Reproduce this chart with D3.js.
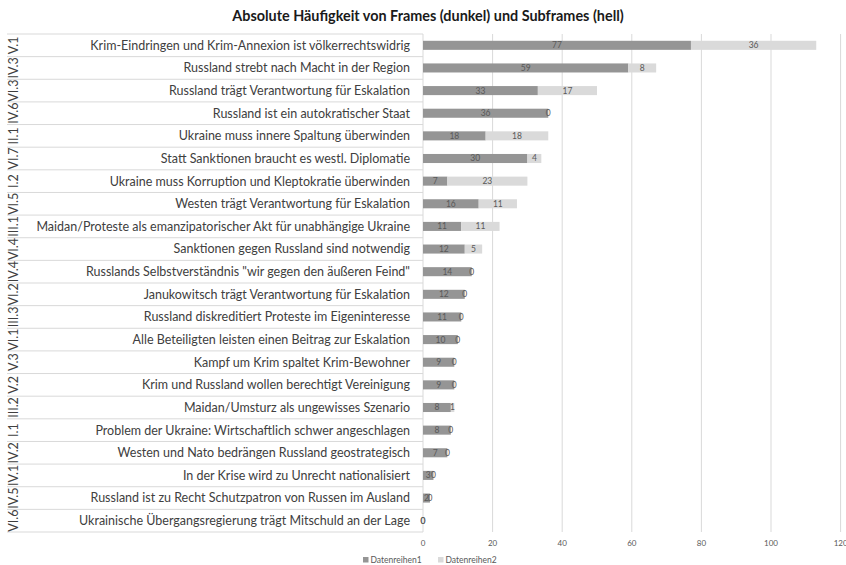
<!DOCTYPE html>
<html>
<head>
<meta charset="utf-8">
<script src="https://cdn.jsdelivr.net/npm/d3@7"></script>
<style>
  body { margin: 0; background: #fff; }
  text { font-family: Lato, "Open Sans", sans-serif; }
</style>
</head>
<body>
<div id="chart"></div>
<script>
// Kategorien (von oben nach unten)
const categories = [
    "Krim-Eindringen und Krim-Annexion ist völkerrechtswidrig",
    "Russland strebt nach Macht in der Region",
    "Russland trägt Verantwortung für Eskalation",
    "Russland ist ein autokratischer Staat",
    "Ukraine muss innere Spaltung überwinden",
    "Statt Sanktionen braucht es westl. Diplomatie",
    "Ukraine muss Korruption und Kleptokratie überwinden",
    "Westen trägt Verantwortung für Eskalation",
    "Maidan/Proteste als emanzipatorischer Akt für unabhängige Ukraine",
    "Sanktionen gegen Russland sind notwendig",
    "Russlands Selbstverständnis \"wir gegen den äußeren Feind\"",
    "Janukowitsch trägt Verantwortung für Eskalation",
    "Russland diskreditiert Proteste im Eigeninteresse",
    "Alle Beteiligten leisten einen Beitrag zur Eskalation",
    "Kampf um Krim spaltet Krim-Bewohner",
    "Krim und Russland wollen berechtigt Vereinigung",
    "Maidan/Umsturz als ungewisses Szenario",
    "Problem der Ukraine: Wirtschaftlich schwer angeschlagen",
    "Westen und Nato bedrängen Russland geostrategisch",
    "In der Krise wird zu Unrecht nationalisiert",
    "Russland ist zu Recht Schutzpatron von Russen im Ausland",
    "Ukrainische Übergangsregierung trägt Mitschuld an der Lage"
];

// Codes (äußere Kategorieebene)
const codes = ["V.1", "IV.3", "VI.3", "IV.6", "II.1", "VI.7", "I.2", "VI.5", "III.1", "VI.4", "IV.4",
    "VI.2", "III.3", "VI.1", "V.3", "V.2", "III.2", "I.1", "IV.2", "IV.1", "IV.5", "VI.6"];

// Frames (dunkel) und Subframes (hell)
const datenreihen1 = [77, 59, 33, 36, 18, 30, 7, 16, 11, 12, 14, 12, 11, 10, 9, 9, 8, 8, 7, 3, 2, 0];
const datenreihen2 = [36, 8, 17, 0, 18, 4, 23, 11, 11, 5, 0, 0, 0, 0, 0, 0, 1, 0, 0, 0, 0, 0];

const xTicks = [0, 20, 40, 60, 80, 100, 120];
const seriesNames = ["Datenreihen1", "Datenreihen2"];

const width = 846, height = 565;
const margin = { top: 34, right: 6, bottom: 33, left: 423 };
const colors = ["#959595", "#dadada"];
const textColor = "#595959";

const svg = d3.select("#chart")
    .append("svg")
    .attr("width", width)
    .attr("height", height);

// Titel
svg.append("text")
    .attr("x", 428)
    .attr("y", 21)
    .attr("text-anchor", "middle")
    .attr("font-size", 14.4)
    .attr("font-weight", "bold")
    .attr("fill", "#1a1a1a")
    .text("Absolute Häufigkeit von Frames (dunkel) und Subframes (hell)");

const xScale = d3.scaleLinear()
    .domain([0, 120])
    .range([margin.left, 840.6]);

const yScale = d3.scaleBand()
    .domain(categories)
    .range([margin.top, 532])
    .paddingInner(0.6)
    .paddingOuter(0.3);

// vertikale Gitterlinien
svg.append("g")
    .selectAll("line")
    .data(xTicks.slice(1))
    .enter().append("line")
    .attr("x1", d => xScale(d))
    .attr("x2", d => xScale(d))
    .attr("y1", margin.top)
    .attr("y2", 532)
    .attr("stroke", "#d9d9d9")
    .attr("stroke-width", 1);

// horizontale Trennlinien im Beschriftungsbereich
const step = yScale.step();
svg.append("g")
    .selectAll("line")
    .data(d3.range(categories.length + 1))
    .enter().append("line")
    .attr("x1", 7)
    .attr("x2", margin.left)
    .attr("y1", i => margin.top + i * step)
    .attr("y2", i => margin.top + i * step)
    .attr("stroke", "#d9d9d9")
    .attr("stroke-width", 1);

// Kategorieachse
svg.append("line")
    .attr("x1", margin.left)
    .attr("x2", margin.left)
    .attr("y1", margin.top)
    .attr("y2", 532)
    .attr("stroke", "#d9d9d9");

// Balken stapeln
const stacked = categories.map((c, i) => ({
    cat: c,
    segs: [
        { s: 0, x0: 0, x1: datenreihen1[i], v: datenreihen1[i] },
        { s: 1, x0: datenreihen1[i], x1: datenreihen1[i] + datenreihen2[i], v: datenreihen2[i] }
    ]
}));

const rows = svg.append("g")
    .selectAll("g")
    .data(stacked)
    .enter().append("g")
    .attr("transform", d => `translate(0, ${yScale(d.cat)})`);

rows.selectAll("rect")
    .data(d => d.segs)
    .enter().append("rect")
    .attr("x", d => xScale(d.x0))
    .attr("width", d => xScale(d.x1) - xScale(d.x0))
    .attr("y", 0)
    .attr("height", yScale.bandwidth())
    .attr("fill", d => colors[d.s]);

rows.selectAll("text")
    .data(d => d.segs)
    .enter().append("text")
    .attr("x", d => (xScale(d.x0) + xScale(d.x1)) / 2)
    .attr("y", yScale.bandwidth() / 2)
    .attr("dy", "0.35em")
    .attr("text-anchor", "middle")
    .attr("font-size", 8.5)
    .attr("fill", textColor)
    .text(d => d.v);

// Kategoriebeschriftungen
svg.append("g")
    .selectAll("text")
    .data(categories)
    .enter().append("text")
    .attr("x", 410)
    .attr("y", d => yScale(d) + yScale.bandwidth() / 2)
    .attr("dy", "0.35em")
    .attr("text-anchor", "end")
    .attr("font-size", 12.5)
    .attr("fill", "#404040")
    .text(d => d);

// Codes, gedreht
svg.append("g")
    .selectAll("text")
    .data(codes)
    .enter().append("text")
    .attr("transform", (d, i) => `translate(14, ${yScale(categories[i]) + yScale.bandwidth() / 2}) rotate(-90)`)
    .attr("dy", "0.35em")
    .attr("text-anchor", "middle")
    .attr("font-size", 12.5)
    .attr("fill", "#404040")
    .text(d => d);

// x-Achse Beschriftung
svg.append("g")
    .selectAll("text")
    .data(xTicks)
    .enter().append("text")
    .attr("x", d => xScale(d))
    .attr("y", 546)
    .attr("text-anchor", "middle")
    .attr("font-size", 8)
    .attr("fill", textColor)
    .text(d => d);

// Legende
const legend = svg.append("g");
const legendX = [363, 438];
seriesNames.forEach((name, i) => {
    legend.append("rect")
        .attr("x", legendX[i])
        .attr("y", 557)
        .attr("width", 5.5)
        .attr("height", 5.5)
        .attr("fill", colors[i]);
    legend.append("text")
        .attr("x", legendX[i] + 7.5)
        .attr("y", 560)
        .attr("dy", "0.35em")
        .attr("font-size", 8.5)
        .attr("fill", textColor)
        .text(name);
});
</script>
</body>
</html>
